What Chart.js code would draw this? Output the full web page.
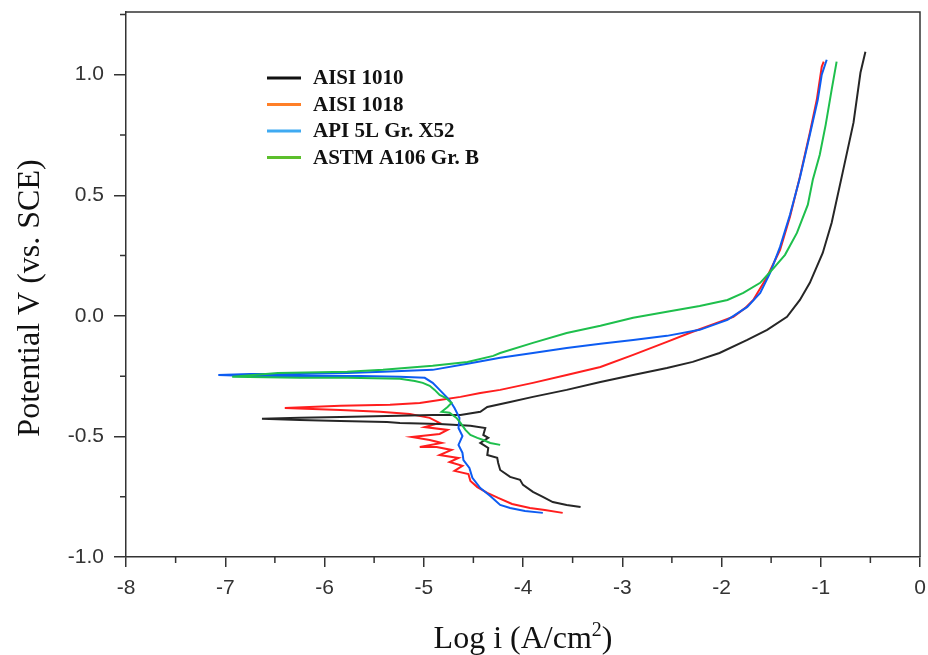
<!DOCTYPE html>
<html><head><meta charset="utf-8">
<script src="https://cdn.jsdelivr.net/npm/chart.js@4.4.0/dist/chart.umd.min.js"></script>
<style>html,body{margin:0;padding:0;background:#fff}</style>
</head><body>
<canvas id="c" width="928" height="655"></canvas>
<script>
// ---- data ----
const seriesNames = ['AISI 1010', 'AISI 1018', 'API 5L Gr. X52', 'ASTM A106 Gr. B'];

const aisi1010_logI = [-3.42,-3.56,-3.70,-3.80,-3.90,-4.00,-4.03,-4.13,-4.23,-4.25,-4.26,-4.36,-4.35,-4.43,-4.35,-4.40,-4.38,-4.53,-4.84,-5.24,-5.37,-5.84,-6.25,-6.63,-6.25,-5.84,-5.37,-4.91,-4.63,-4.43,-4.36,-4.13,-3.90,-3.56,-3.22,-2.89,-2.55,-2.29,-2.02,-1.74,-1.54,-1.34,-1.21,-1.11,-0.98,-0.89,-0.78,-0.67,-0.60,-0.55];
const aisi1010_E    = [-0.793,-0.784,-0.772,-0.751,-0.730,-0.701,-0.680,-0.668,-0.639,-0.610,-0.589,-0.577,-0.548,-0.527,-0.506,-0.494,-0.465,-0.456,-0.448,-0.444,-0.440,-0.436,-0.432,-0.427,-0.423,-0.419,-0.415,-0.411,-0.411,-0.398,-0.378,-0.357,-0.336,-0.307,-0.274,-0.245,-0.216,-0.191,-0.154,-0.100,-0.058,-0.004,0.066,0.137,0.261,0.386,0.593,0.801,1.008,1.095];

const aisi1018_logI = [-3.60,-3.78,-3.93,-4.11,-4.25,-4.36,-4.46,-4.53,-4.55,-4.69,-4.61,-4.74,-4.65,-4.84,-4.72,-4.87,-5.04,-4.82,-4.94,-5.12,-4.84,-4.76,-4.99,-4.84,-4.94,-5.14,-5.44,-5.84,-6.40,-5.84,-5.34,-5.04,-4.84,-4.63,-4.43,-4.23,-3.90,-3.56,-3.22,-2.89,-2.55,-2.29,-2.02,-1.88,-1.76,-1.68,-1.54,-1.41,-1.31,-1.21,-1.11,-1.04,-0.99,-0.97];
const aisi1018_E    = [-0.817,-0.805,-0.797,-0.780,-0.755,-0.734,-0.710,-0.685,-0.656,-0.643,-0.622,-0.606,-0.589,-0.577,-0.556,-0.544,-0.544,-0.527,-0.515,-0.502,-0.490,-0.473,-0.461,-0.444,-0.423,-0.407,-0.398,-0.390,-0.382,-0.373,-0.369,-0.361,-0.349,-0.336,-0.320,-0.307,-0.278,-0.245,-0.212,-0.162,-0.108,-0.066,-0.025,-0.004,0.033,0.066,0.162,0.274,0.411,0.577,0.759,0.896,1.033,1.054];

const api5l_logI = [-3.80,-3.98,-4.13,-4.23,-4.33,-4.43,-4.51,-4.54,-4.60,-4.61,-4.65,-4.61,-4.65,-4.64,-4.69,-4.74,-4.84,-4.91,-4.99,-5.24,-5.64,-6.25,-6.75,-7.07,-6.75,-6.25,-5.77,-5.41,-4.91,-4.56,-4.23,-3.90,-3.56,-3.22,-2.89,-2.55,-2.22,-1.94,-1.74,-1.61,-1.51,-1.41,-1.31,-1.21,-1.11,-1.03,-0.99,-0.94];
const api5l_E    = [-0.817,-0.809,-0.797,-0.784,-0.747,-0.714,-0.672,-0.631,-0.598,-0.568,-0.535,-0.498,-0.465,-0.423,-0.382,-0.349,-0.307,-0.278,-0.257,-0.253,-0.249,-0.249,-0.249,-0.245,-0.241,-0.241,-0.237,-0.232,-0.224,-0.199,-0.174,-0.154,-0.133,-0.116,-0.100,-0.083,-0.058,-0.017,0.037,0.095,0.178,0.286,0.419,0.573,0.751,0.896,1.000,1.062];

const astm_logI = [-4.23,-4.33,-4.40,-4.46,-4.53,-4.58,-4.63,-4.67,-4.74,-4.82,-4.76,-4.72,-4.78,-4.84,-4.89,-4.94,-5.01,-5.09,-5.24,-5.77,-6.25,-6.93,-6.47,-5.77,-5.41,-4.91,-4.56,-4.30,-4.23,-3.90,-3.56,-3.22,-2.89,-2.55,-2.22,-1.94,-1.78,-1.61,-1.49,-1.36,-1.24,-1.13,-1.08,-1.01,-0.95,-0.89,-0.84];
const astm_E    = [-0.535,-0.527,-0.515,-0.506,-0.494,-0.473,-0.444,-0.423,-0.402,-0.398,-0.378,-0.361,-0.340,-0.328,-0.307,-0.290,-0.278,-0.270,-0.261,-0.257,-0.257,-0.253,-0.237,-0.232,-0.224,-0.207,-0.191,-0.166,-0.154,-0.112,-0.071,-0.041,-0.008,0.017,0.041,0.066,0.095,0.137,0.191,0.253,0.344,0.461,0.564,0.668,0.793,0.938,1.054];

const xTicks = [-8,-7,-6,-5,-4,-3,-2,-1,0];
const xMinorTicks = [-7.5,-6.5,-5.5,-4.5,-3.5,-2.5,-1.5,-0.5];
const yTicks = [-1.0,-0.5,0.0,0.5,1.0];
const yMinorTicks = [-0.75,-0.25,0.25,0.75,1.25];

// ---- styles ----
const lineColors   = ['#262626','#ff1e1e','#0d5cf2','#1ebf4c'];
const legendColors = ['#111111','#ff7f27','#3faaf2','#5cbf2c'];
const drawOrder    = [2,3,1,0];
const serif = "'Liberation Serif','Times New Roman',serif";
const sans  = "'Liberation Sans',Arial,sans-serif";

const xs = [aisi1010_logI, aisi1018_logI, api5l_logI, astm_logI];
const ys = [aisi1010_E, aisi1018_E, api5l_E, astm_E];

const datasets = seriesNames.map((name,i)=>({
  label: name,
  data: xs[i].map((v,j)=>({x:v, y:ys[i][j]})),
  showLine: true,
  borderColor: lineColors[i],
  backgroundColor: lineColors[i],
  borderWidth: 2,
  pointRadius: 0,
  tension: 0,
  fill: false,
  order: drawOrder[i]
}));

const decor = {
  id: 'decor',
  afterDraw(chart){
    const {ctx, chartArea:a, scales:{x, y}} = chart;
    ctx.save();
    ctx.strokeStyle = '#333'; ctx.lineWidth = 1.5;
    ctx.beginPath();
    ctx.moveTo(a.left, a.top); ctx.lineTo(a.right, a.top); ctx.lineTo(a.right, a.bottom);
    ctx.stroke();
    ctx.beginPath();
    xMinorTicks.forEach(v=>{const p = x.getPixelForValue(v); ctx.moveTo(p, a.bottom); ctx.lineTo(p, a.bottom+6);});
    yMinorTicks.forEach(v=>{const p = y.getPixelForValue(v); ctx.moveTo(a.left, p); ctx.lineTo(a.left-6, p);});
    ctx.stroke();

    // axis titles
    ctx.fillStyle = '#111';
    ctx.textBaseline = 'alphabetic';
    const t1 = 'Log i (A/cm', sup = '2', t2 = ')';
    ctx.font = '32px ' + serif; const w1 = ctx.measureText(t1).width, w3 = ctx.measureText(t2).width;
    ctx.font = '20px ' + serif; const w2 = ctx.measureText(sup).width;
    const cx = (a.left + a.right)/2;
    let sx = cx - (w1+w2+w3)/2;
    const by = 648;
    ctx.textAlign = 'left';
    ctx.font = '32px ' + serif; ctx.fillText(t1, sx, by);
    ctx.font = '20px ' + serif; ctx.fillText(sup, sx + w1, by - 12);
    ctx.font = '32px ' + serif; ctx.fillText(t2, sx + w1 + w2, by);

    ctx.save();
    ctx.translate(39, 298);
    ctx.rotate(-Math.PI/2);
    ctx.textAlign = 'center';
    ctx.font = '32px ' + serif;
    ctx.fillText('Potential V (vs. SCE)', 0, 0);
    ctx.restore();

    // legend
    const lx = 267, ly0 = 78, dy = 26.5;
    seriesNames.forEach((name,i)=>{
      const yy = ly0 + i*dy;
      ctx.strokeStyle = legendColors[i]; ctx.lineWidth = 3;
      ctx.beginPath(); ctx.moveTo(lx, yy); ctx.lineTo(lx+34, yy); ctx.stroke();
      ctx.fillStyle = '#111';
      ctx.font = 'bold 21px ' + serif;
      ctx.textAlign = 'left'; ctx.textBaseline = 'middle';
      ctx.fillText(name, lx+46, yy+1);
    });
    ctx.restore();
  }
};

new Chart(document.getElementById('c'), {
  type: 'scatter',
  data: { datasets },
  options: {
    responsive: false,
    animation: false,
    devicePixelRatio: 1,
    layout: { padding: { top: 12, right: 8, left: 0, bottom: 0 } },
    plugins: { legend: { display: false }, tooltip: { enabled: false } },
    scales: {
      x: {
        type: 'linear', position: 'bottom', min: -8, max: 0,
        afterBuildTicks: s => { s.ticks = xTicks.map(v=>({value:v})); },
        afterFit: s => { s.height = 98; s.paddingLeft = 0; s.paddingRight = 0; },
        ticks: { callback: v => String(v), font: { family: sans, size: 21 }, color: '#333', padding: 9, maxRotation: 0, autoSkip: false },
        grid: { drawOnChartArea: false, drawTicks: true, tickLength: 10, color: '#333', lineWidth: 1.5 },
        border: { display: true, color: '#333', width: 1.5 }
      },
      y: {
        type: 'linear', position: 'left', min: -1.0, max: 1.26,
        afterBuildTicks: s => { s.ticks = yTicks.map(v=>({value:v})); },
        afterFit: s => { s.width = 126; s.paddingTop = 0; s.paddingBottom = 0; },
        ticks: { callback: v => Number(v).toFixed(1), font: { family: sans, size: 21 }, color: '#333', padding: 10, autoSkip: false },
        grid: { drawOnChartArea: false, drawTicks: true, tickLength: 12, color: '#333', lineWidth: 1.5 },
        border: { display: true, color: '#333', width: 1.5 }
      }
    }
  },
  plugins: [decor]
});
</script>
</body></html>
